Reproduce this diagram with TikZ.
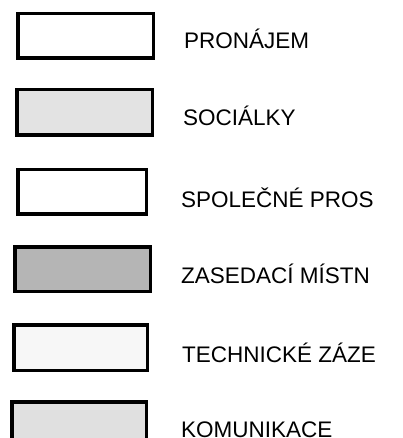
\documentclass[tikz,border=0pt]{standalone}
\usepackage{fontspec}
\setmainfont{Liberation Sans}
\begin{document}
\begin{tikzpicture}[x=1pt,y=-1pt,
  legbox/.style={draw=black, line width=3.5pt, rectangle, inner sep=0pt, outer sep=0pt},
  lab/.style={anchor=base west, inner sep=0pt, font=\fontsize{22.5}{26}\selectfont}]
\useasboundingbox (0,0) rectangle (402,438);
\clip (0,0) rectangle (402,438);
\fill[white] (0,0) rectangle (402,438);
% boxes (path coordinates inset by half the line width)
\draw[legbox, fill=white]    (17.75,13.75) rectangle (153.25,58.25);
\draw[legbox, fill=gray!22]  (16.75,89.75) rectangle (152.25,135.25);
\draw[legbox, fill=white]    (17.75,169.75) rectangle (146.25,213.75);
\draw[legbox, fill=gray!58]  (14.75,246.75) rectangle (150.25,291.25);
\draw[legbox, fill=gray!6]   (13.75,324.75) rectangle (147.25,370.25);
\draw[legbox, fill=gray!24]  (11.75,401.75) rectangle (146.25,460);
% labels
\node[lab] (t1) at (184,49)  {PRONÁJEM};
\node[lab] (t2) at (183,126) {SOCIÁLKY};
\node[lab] (t3) at (181,207) {SPOLEČNÉ PROS};
\node[lab] (t4) at (181,283) {ZASEDACÍ MÍSTN};
\node[lab] (t5) at (182,362) {TECHNICKÉ ZÁZE};
\node[lab] (t6) at (181,437) {KOMUNIKACE};
\end{tikzpicture}
\end{document}
